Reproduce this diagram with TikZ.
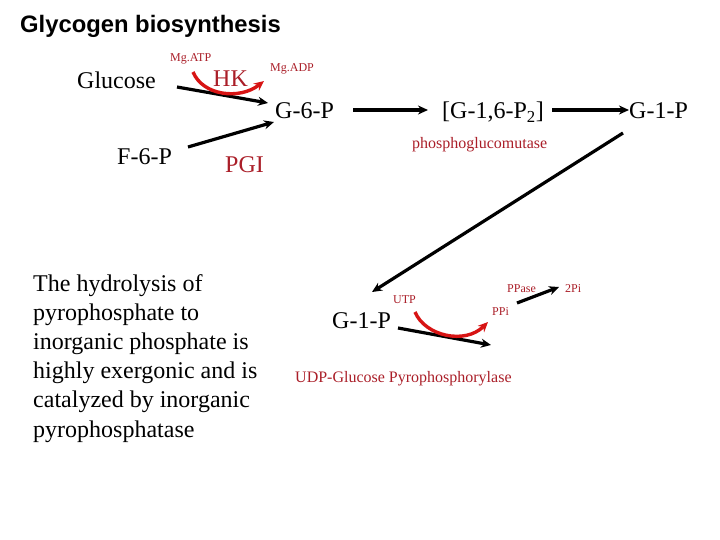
\documentclass[tikz,border=0pt]{standalone}
\usepackage{fontspec}
\setmainfont{Liberation Serif}
\newfontfamily\titlefont{Liberation Sans}
\usetikzlibrary{arrows.meta}
\definecolor{lab}{RGB}{170,30,40}
\definecolor{curv}{RGB}{215,20,20}
\begin{document}
\begin{tikzpicture}[x=1pt,y=-1pt,
  big/.style={font=\fontsize{24}{29.2}\selectfont, inner sep=0pt, anchor=base west},
  small/.style={font=\fontsize{12}{14}\selectfont, text=lab, inner sep=0pt, anchor=base west},
  mid/.style={font=\fontsize{16}{19}\selectfont, text=lab, inner sep=0pt, anchor=base west},
  arr/.style={line width=3.2pt, -{Stealth[length=10pt,width=9pt]}},
  rarr/.style={line width=3.4pt, draw=curv, -{Stealth[length=10pt,width=9pt]}}]
\useasboundingbox (0,0) rectangle (720,540);

% title
\node[inner sep=0pt, anchor=base west, font=\titlefont\bfseries\fontsize{23.8}{28}\selectfont] (title) at (20,33)
  {Glycogen biosynthesis};

% upper pathway
\node[big] (glc) at (77,89) {Glucose};
\node[small] (mgatp) at (170,62) {Mg.ATP};
\node[big, text=lab] (hk) at (213,87) {HK};
\node[small] (mgadp) at (270,72) {Mg.ADP};
\node[big] (g6p) at (275,119) {G-6-P};
\node[big] (g16) at (442,119) {[G-1,6-P\textsubscript{2}]};
\node[big] (g1p) at (629,119) {G-1-P};
\node[mid] (pgm) at (412,149) {phosphoglucomutase};
\node[big] (f6p) at (117,165) {F-6-P};
\node[big, text=lab] (pgi) at (225,173) {PGI};

% lower pathway
\node[big] (g1pb) at (332,328) {G-1-P};
\node[small] (utp) at (393,303) {UTP};
\node[small] (ppi) at (492,315) {PPi};
\node[small] (ppase) at (507,292) {PPase};
\node[small] (twopi) at (565,292) {2Pi};
\node[mid] (udp) at (295,382) {UDP-Glucose Pyrophosphorylase};

% paragraph
\node[inner sep=0pt, anchor=base west, font=\fontsize{24}{29.2}\selectfont] (para) at (33,291)
  {\begin{tabular}[t]{@{}l@{}}The hydrolysis of\\ pyrophosphate to\\ inorganic phosphate is\\
   highly exergonic and is\\ catalyzed by inorganic\\ pyrophosphatase\end{tabular}};

% connector end points
\coordinate (a1s) at (177,87);  \coordinate (a1e) at (268,103);
\coordinate (a2s) at (188,147); \coordinate (a2e) at (274,122);
\coordinate (a3s) at (353,110); \coordinate (a3e) at (428,110);
\coordinate (a4s) at (552,110); \coordinate (a4e) at (629,110);
\coordinate (a5s) at (623,133); \coordinate (a5e) at (372,292);
\coordinate (a6s) at (398,328); \coordinate (a6e) at (491,345);
\coordinate (a7s) at (517,303); \coordinate (a7e) at (559,287);
\coordinate (c1s) at (193,72);  \coordinate (c1e) at (264,81);
\coordinate (c2s) at (415,312); \coordinate (c2e) at (488,322);

% black arrows
\draw[arr] (a1s) -- (a1e);
\draw[arr] (a2s) -- (a2e);
\draw[arr] (a3s) -- (a3e);
\draw[arr] (a4s) -- (a4e);
\draw[arr] (a5s) -- (a5e);
\draw[arr] (a6s) -- (a6e);
\draw[arr] (a7s) -- (a7e);

% red curved arrows
\draw[rarr] (c1s) .. controls (203,96) and (240,100) .. (c1e);
\draw[rarr] (c2s) .. controls (425,336) and (465,345) .. (c2e);
\end{tikzpicture}
\end{document}
